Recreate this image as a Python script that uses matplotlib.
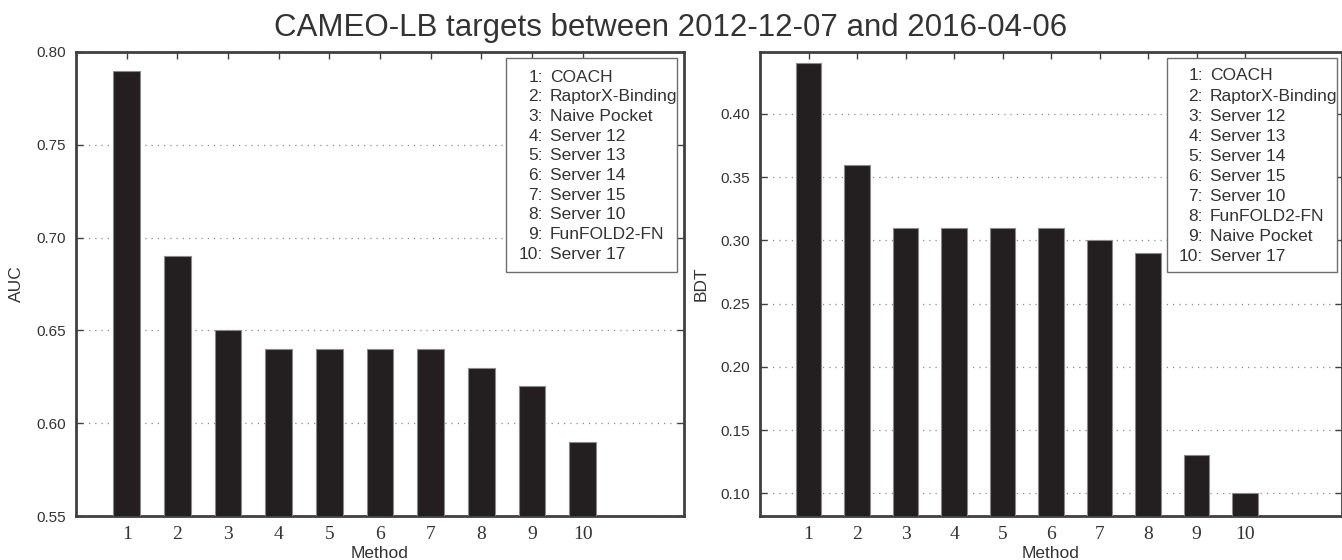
"""CAMEO-LB AUC / BDT bar charts, two panels side by side."""

import matplotlib

matplotlib.use("Agg")
import matplotlib.pyplot as plt
from matplotlib import font_manager
from matplotlib.patches import Rectangle

# ---- data -------------------------------------------------------------
auc_methods = [
    "COACH", "RaptorX-Binding", "Naive Pocket", "Server 12", "Server 13",
    "Server 14", "Server 15", "Server 10", "FunFOLD2-FN", "Server 17",
]
auc_values = [0.79, 0.69, 0.65, 0.64, 0.64, 0.64, 0.64, 0.63, 0.62, 0.59]
auc_ticks = [0.55, 0.60, 0.65, 0.70, 0.75, 0.80]

bdt_methods = [
    "COACH", "RaptorX-Binding", "Server 12", "Server 13", "Server 14",
    "Server 15", "Server 10", "FunFOLD2-FN", "Naive Pocket", "Server 17",
]
bdt_values = [0.44, 0.36, 0.31, 0.31, 0.31, 0.31, 0.30, 0.29, 0.13, 0.10]
bdt_ticks = [0.10, 0.15, 0.20, 0.25, 0.30, 0.35, 0.40]

title = "CAMEO-LB targets between 2012-12-07 and 2016-04-06"

# ---- style ------------------------------------------------------------
installed = {f.name for f in font_manager.fontManager.ttflist}
NARROW = "Liberation Sans Narrow" if "Liberation Sans Narrow" in installed else "Liberation Sans"
SANS = "Liberation Sans"
SERIF = "Liberation Serif"
TEXT = "#333333"
FRAME = "#404040"
BAR = "#231f20"

W, H = 1342, 560
fig = plt.figure(figsize=(W / 100, H / 100), dpi=100)


def px_axes(left, top, right, bottom):
    return fig.add_axes([left / W, 1 - bottom / H, (right - left) / W, (bottom - top) / H])


def draw_panel(ax, methods, values, yticks, ylim, ylabel, box_px):
    xs = list(range(1, len(values) + 1))
    ax.bar(xs, values, width=0.52, color=BAR, edgecolor="#8a8a8a", linewidth=0.8, zorder=3)
    ax.set_xlim(0, 12)
    ax.set_ylim(*ylim)
    ax.set_xticks(xs)
    ax.set_xticklabels([str(x) for x in xs], fontfamily=SERIF, fontsize=14, color=TEXT)
    ax.set_yticks(yticks)
    ax.set_yticklabels([f"{t:.2f}" for t in yticks], fontfamily=NARROW, fontsize=11, color=TEXT)
    ax.tick_params(direction="in", length=5, width=1, color=FRAME,
                   top=True, right=True, pad=7)
    ax.yaxis.grid(True, linestyle=(0, (1, 4)), color="#8c8c8c", linewidth=0.9)
    ax.set_axisbelow(True)
    for spine in ax.spines.values():
        spine.set_color(FRAME)
        spine.set_linewidth(2)
    ax.set_xlabel("Method", fontfamily=NARROW, fontsize=12.5, color=TEXT, labelpad=2)
    ax.set_ylabel(ylabel, fontfamily=NARROW, fontsize=12.5, color=TEXT, labelpad=9)

    # method key drawn as a boxed list, like the original legend
    bbox = ax.get_position()
    ax_l, ax_t = bbox.x0 * W, (1 - bbox.y1) * H
    ax_w, ax_h = bbox.width * W, bbox.height * H
    left, top, right, bottom, first, step, colon = box_px
    fx = lambda px: (px - ax_l) / ax_w
    fy = lambda py: 1 - (py - ax_t) / ax_h
    ax.add_patch(Rectangle((fx(left), fy(bottom)), fx(right) - fx(left), fy(top) - fy(bottom),
                           transform=ax.transAxes, facecolor="white", edgecolor="#6e6e6e",
                           linewidth=1, zorder=5))
    for i, name in enumerate(methods):
        y = fy(first + step * i)
        ax.text(fx(colon), y, f"{i + 1}:", transform=ax.transAxes, ha="right", va="center",
                fontfamily=SANS, fontsize=12.5, color=TEXT, zorder=6)
        ax.text(fx(colon + 7), y, name, transform=ax.transAxes, ha="left", va="center",
                fontfamily=SANS, fontsize=12.5, color=TEXT, zorder=6)


ax_auc = px_axes(76, 52, 684, 516)
draw_panel(ax_auc, auc_methods, auc_values, auc_ticks, (0.55, 0.80), "AUC",
           (506, 58, 677, 272, 77, 19.7, 543))

ax_bdt = px_axes(760, 52, 1342, 516)
draw_panel(ax_bdt, bdt_methods, bdt_values, bdt_ticks, (0.082, 0.449), "BDT",
           (1167, 58, 1337, 272, 76, 20.1, 1203))

fig.text(0.5, 0.95, title, ha="center", va="center", fontfamily=NARROW, fontsize=22.5, color=TEXT)

fig.savefig("out.png", dpi=100)
